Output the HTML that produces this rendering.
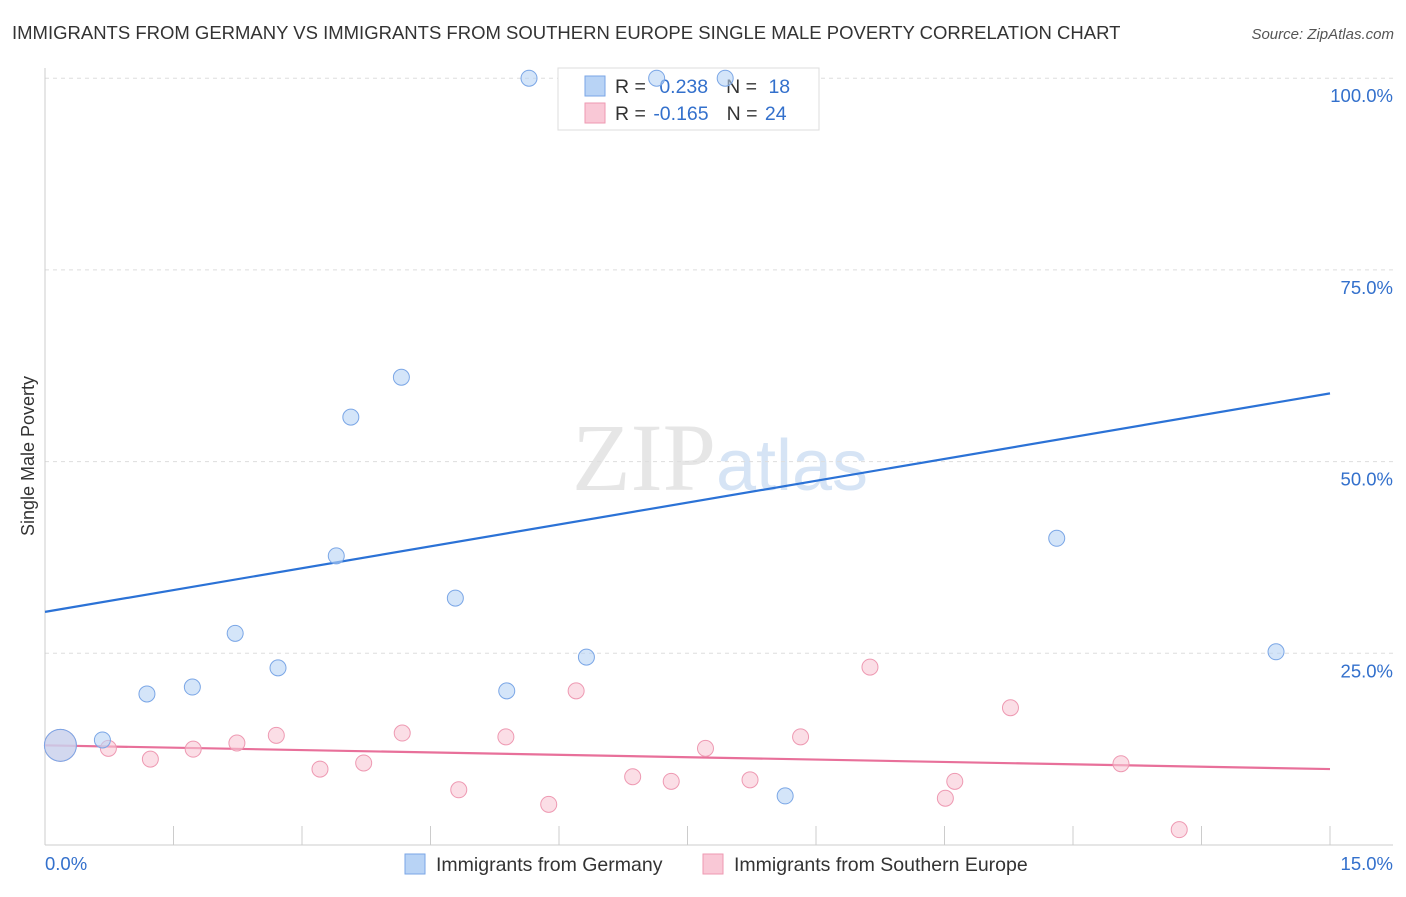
<!DOCTYPE html>
<html><head><meta charset="utf-8"><style>
body{margin:0;background:#fff;font-family:"Liberation Sans",sans-serif;}
</style></head><body>
<svg id="chart" width="1406" height="892" xmlns="http://www.w3.org/2000/svg" style="font-family:'Liberation Sans',sans-serif">
<text x="12" y="39" font-size="18.5" fill="#333">IMMIGRANTS FROM GERMANY VS IMMIGRANTS FROM SOUTHERN EUROPE SINGLE MALE POVERTY CORRELATION CHART</text>
<text x="1394" y="39" font-size="15" fill="#555" text-anchor="end" font-style="italic">Source: ZipAtlas.com</text>
<text x="720" y="490" font-size="96" text-anchor="middle" fill="#e6e6e6" font-family="Liberation Serif">ZIP<tspan fill="#d6e4f5" font-family="Liberation Sans" font-size="72">atlas</tspan></text>
<text transform="translate(34,456) rotate(-90)" font-size="18" fill="#333" text-anchor="middle">Single Male Poverty</text>
<g id="grid"></g><g id="axes"></g>
<g>
<rect x="558" y="68" width="261" height="62" fill="#fff" stroke="#ddd"/>
<rect x="585" y="76" width="20" height="20" fill="#b8d3f5" stroke="#7aa6e6"/>
<text x="615" y="93" font-size="19.5" fill="#333">R = <tspan fill="#3370cc" dx="8">0.238</tspan><tspan dx="18" fill="#333">N = </tspan><tspan dx="6" fill="#3370cc">18</tspan></text>
<rect x="585" y="103" width="20" height="20" fill="#f9c8d6" stroke="#ee99b2"/>
<text x="615" y="120" font-size="19.5" fill="#333">R = <tspan fill="#3370cc" dx="2">-0.165</tspan><tspan dx="18" fill="#333">N = </tspan><tspan dx="2" fill="#3370cc">24</tspan></text>
</g>
<g id="lines"></g><g id="points"></g>
<g>
<rect x="405" y="854" width="20" height="20" fill="#b8d3f5" stroke="#7aa6e6"/>
<text x="436" y="871" font-size="19.5" fill="#333">Immigrants from Germany</text>
<rect x="703" y="854" width="20" height="20" fill="#f9c8d6" stroke="#ee99b2"/>
<text x="734" y="871" font-size="19.5" fill="#333">Immigrants from Southern Europe</text>
</g>
</svg>
<script>
const germanyX=[0.18,0.67,1.19,1.72,2.22,2.72,3.40,3.57,4.16,4.79,5.39,5.65,6.32,7.14,7.94,8.64,11.81,14.37];
const germanyY=[13.0,13.7,19.7,20.6,27.6,23.1,37.7,55.8,61.0,32.2,20.1,100,24.5,100,100,6.4,40.0,25.2];
const southX=[0.18,0.74,1.23,1.73,2.24,2.70,3.21,3.72,4.17,4.83,5.38,5.88,6.20,6.86,7.31,7.71,8.23,8.82,9.63,10.51,10.62,11.27,12.56,13.24];
const southY=[13.0,12.6,11.2,12.5,13.3,14.3,9.9,10.7,14.6,7.2,14.1,5.3,20.1,8.9,8.3,12.6,8.5,14.1,23.2,6.1,8.3,17.9,10.6,2.0];
const germanyTrend=[30.4,58.9];
const southTrend=[13.0,9.9];
const yTicks=[25,50,75,100];
const yTickLabels=["25.0%","50.0%","75.0%","100.0%"];
const NS="http://www.w3.org/2000/svg";
const X=v=>45+v*(1285/15);
const Y=v=>845-v*7.668;
function mk(tag,attrs,parent){const e=document.createElementNS(NS,tag);for(const k in attrs)e.setAttribute(k,attrs[k]);document.getElementById(parent).appendChild(e);return e;}
yTicks.forEach((t,i)=>{
  const l=mk('line',{x1:45,x2:1393,y1:Y(t),y2:Y(t),stroke:'#ddd','stroke-dasharray':'4,4'},'grid');
  
  
  const tx=mk('text',{x:1393,y:Y(t)+24,'font-size':18.5,fill:'#3370cc','text-anchor':'end'},'axes');
  tx.textContent=yTickLabels[i];
  
  
});
let ax=mk('line',{x1:45,x2:45,y1:68,y2:845,stroke:'#ccc'},'axes');


ax=mk('line',{x1:45,x2:1393,y1:845,y2:845,stroke:'#ccc'},'axes');


for(let i=1;i<=10;i++){const tk=mk('line',{x1:X(i*1.5),x2:X(i*1.5),y1:826,y2:845,stroke:'#ccc'},'axes');

}
let t1=mk('text',{x:45,y:870,'font-size':18.5,fill:'#3370cc'},'axes');t1.textContent="0.0%";


let t2=mk('text',{x:1393,y:870,'font-size':18.5,fill:'#3370cc','text-anchor':'end'},'axes');t2.textContent="15.0%";


southX.forEach((x,i)=>{const c=mk('circle',{cx:X(x),cy:Y(southY[i]),r:i==0?16:8,fill:'rgba(249,200,214,0.6)',stroke:'#ee99b2'},'points');

});
germanyX.forEach((x,i)=>{const c=mk('circle',{cx:X(x),cy:Y(germanyY[i]),r:i==0?16:8,fill:'rgba(184,211,245,0.6)',stroke:'#7aa6e6'},'points');

});
let l1=mk('line',{x1:X(0),x2:X(15),y1:Y(germanyTrend[0]),y2:Y(germanyTrend[1]),stroke:'#2b72d6','stroke-width':2.2},'lines');


let l2=mk('line',{x1:X(0),x2:X(15),y1:Y(southTrend[0]),y2:Y(southTrend[1]),stroke:'#e8709a','stroke-width':2.2},'lines');


</script>
</body></html>
